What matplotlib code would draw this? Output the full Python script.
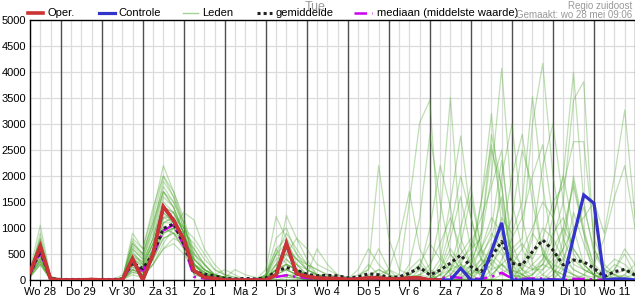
import matplotlib
matplotlib.use("Agg")
import matplotlib.pyplot as plt
from matplotlib.lines import Line2D

plt.rcParams['font.family'] = ['Liberation Sans', 'DejaVu Sans']

# ---------------- data (6-hourly steps from Wo 28 06:00 to Do 12 00:00) ----------------
day_labels = ["Wo 28", "Do 29", "Vr 30", "Za 31", "Zo 1", "Ma 2", "Di 3", "Wo 4",
              "Do 5", "Vr 6", "Za 7", "Zo 8", "Ma 9", "Di 10", "Wo 11"]
y_ticks = [0, 500, 1000, 1500, 2000, 2500, 3000, 3500, 4000, 4500, 5000]

oper = [150, 650, 20, 0, 0, 0, 10, 0, 0, 0, 410, 0, 500, 1410, 1150, 780, 180, 50, 30, 0,
        0, 0, 0, 0, 100, 705, 120, 70, 40, 30, 30, 10, 20, 40, 40, 20, 20, 40, 40, 0, 0]

controle = [150, 650, 20, 0, 0, 0, 10, 0, 0, 0, 410, 0, 500, 1410, 1150, 780, 180, 50, 30, 0,
            0, 0, 0, 0, 100, 705, 120, 70, 40, 30, 30, 10, 20, 40, 40, 20, 20, 40, 40, 0,
            0, 0, 225, 0, 0, 550, 1100, 0, 0, 0, 0, 0, 0, 820, 1635, 1475, 0, 20, 20, 0]

gemiddelde = [130, 550, 30, 10, 10, 10, 10, 10, 10, 20, 330, 220, 500, 990, 1080, 700, 160, 110, 80, 30,
              20, 30, 20, 40, 160, 240, 190, 110, 80, 90, 80, 40, 60, 120, 100, 50, 60, 130, 245, 95,
              190, 325, 480, 255, 160, 450, 740, 320, 290, 545, 770, 575, 290, 385, 350, 225, 65, 160, 205, 95]

mediaan = [120, 530, 20, 5, 5, 5, 5, 5, 5, 5, 310, 180, 470, 950, 1060, 660, 60, 30, 20, 10,
           10, 10, 10, 20, 60, 90, 60, 40, 20, 30, 30, 20, 20, 30, 20, 10, 10, 10, 20, 0,
           30, 60, 40, 30, 20, 60, 140, 30, 20, 30, 30, 10, 0, 20, 20, 10, 0, 0, 10, 0]

leden = [
    [130, 650, 30, 0, 0, 0, 0, 0, 0, 0, 500, 300, 800, 1600, 1400, 900, 200, 100, 50, 20, 0, 0, 0, 100, 500, 400, 200, 100, 50, 30, 20,
     0, 20, 80, 50, 20, 100, 1500, 3025, 3460, 500, 100, 50, 200, 400, 300, 100, 50, 100, 200, 300, 200, 100, 50, 0, 0, 0, 50, 100, 0],
    [100, 900, 60, 10, 0, 0, 0, 0, 0, 0, 900, 600, 1400, 2000, 1600, 1100, 400, 200, 80, 50, 0, 0, 0, 200, 1220, 800, 300, 100, 50, 20, 0,
     0, 0, 50, 200, 100, 50, 50, 100, 200, 1200, 3510, 800, 300, 600, 1200, 900, 400, 200, 100, 300, 800, 400, 200, 100, 50, 100, 300, 200, 100],
    [80, 400, 20, 0, 0, 0, 0, 0, 0, 0, 200, 100, 300, 700, 1000, 1300, 1150, 600, 300, 100, 50, 0, 0, 0, 50, 100, 50, 0, 0, 0, 0,
     0, 0, 0, 0, 0, 50, 100, 200, 100, 400, 1500, 2770, 1200, 400, 200, 300, 100, 50, 0, 100, 300, 200, 100, 0, 0, 0, 0, 50, 100],
    [200, 500, 20, 0, 0, 0, 0, 0, 0, 100, 300, 200, 600, 1100, 1200, 800, 100, 50, 20, 0, 0, 0, 0, 50, 200, 1240, 800, 400, 100, 0, 0,
     0, 0, 0, 100, 200, 100, 0, 0, 0, 0, 100, 400, 600, 800, 2000, 4070, 1500, 600, 200, 400, 900, 1200, 600, 300, 100, 50, 0, 0, 0],
    [150, 600, 40, 10, 0, 0, 0, 0, 0, 0, 400, 250, 700, 1300, 1100, 700, 150, 80, 30, 20, 0, 0, 0, 80, 300, 200, 100, 50, 20, 20, 0,
     0, 0, 0, 0, 0, 0, 0, 0, 0, 200, 600, 300, 100, 200, 500, 900, 600, 800, 3000, 4165, 2000, 800, 300, 200, 100, 200, 400, 300, 100],
    [120, 450, 20, 0, 0, 0, 0, 0, 0, 0, 150, 100, 400, 900, 1000, 700, 300, 100, 30, 20, 0, 0, 0, 0, 150, 600, 400, 300, 200, 100, 50,
     20, 100, 200, 2200, 800, 200, 100, 50, 0, 100, 300, 200, 100, 300, 600, 1200, 900, 1500, 3525, 1800, 600, 200, 100, 50, 0, 0, 100, 200, 50],
    [90, 350, 10, 0, 0, 0, 0, 0, 0, 0, 250, 150, 500, 1000, 900, 600, 100, 50, 20, 0, 0, 0, 0, 30, 100, 50, 30, 20, 0, 0, 0,
     0, 0, 0, 0, 0, 0, 50, 100, 50, 0, 0, 200, 400, 100, 0, 100, 300, 600, 1000, 1500, 1200, 2000, 3990, 1500, 500, 200, 100, 50, 0],
    [180, 800, 50, 20, 10, 0, 0, 0, 0, 50, 700, 500, 1100, 1800, 1500, 1000, 500, 300, 100, 50, 20, 0, 0, 100, 600, 300, 200, 100, 50, 30, 20,
     10, 0, 50, 100, 50, 0, 0, 0, 0, 100, 200, 300, 700, 1200, 1800, 2500, 400, 200, 500, 1000, 800, 1500, 3460, 3815, 600, 200, 100, 0, 0],
    [60, 300, 10, 0, 0, 0, 0, 0, 0, 0, 300, 200, 500, 900, 1000, 900, 700, 400, 200, 100, 50, 20, 0, 0, 50, 100, 100, 50, 20, 0, 0,
     0, 0, 0, 0, 0, 0, 0, 0, 0, 0, 100, 300, 200, 100, 300, 600, 200, 100, 300, 500, 300, 600, 1000, 1200, 1500, 900, 2000, 3270, 1200],
    [140, 550, 30, 0, 0, 0, 0, 0, 0, 0, 450, 350, 800, 1400, 1300, 900, 250, 150, 60, 30, 0, 0, 0, 60, 400, 500, 300, 100, 50, 20, 0,
     0, 0, 0, 0, 0, 0, 200, 400, 100, 0, 200, 500, 800, 400, 100, 300, 500, 700, 400, 800, 1500, 1800, 2660, 2660, 800, 300, 100, 0, 0],
    [110, 700, 30, 0, 0, 0, 0, 0, 0, 0, 550, 300, 700, 1200, 1200, 800, 200, 100, 40, 20, 0, 0, 0, 100, 800, 1000, 500, 200, 100, 50, 30,
     20, 200, 600, 300, 100, 0, 0, 0, 0, 0, 0, 100, 300, 900, 2500, 1800, 200, 0, 0, 200, 500, 300, 100, 0, 0, 0, 200, 600, 300],
    [70, 400, 20, 0, 0, 0, 0, 0, 0, 0, 200, 100, 400, 800, 900, 700, 400, 200, 100, 50, 200, 100, 50, 0, 0, 0, 0, 0, 0, 0, 0,
     0, 0, 0, 0, 0, 0, 0, 0, 0, 0, 0, 0, 50, 200, 400, 200, 100, 50, 100, 300, 600, 1000, 600, 300, 100, 0, 0, 0, 0],
    [160, 750, 40, 10, 0, 0, 0, 0, 0, 0, 800, 600, 1300, 2200, 1700, 1100, 300, 150, 50, 20, 0, 0, 0, 0, 200, 400, 200, 100, 100, 100, 50,
     0, 0, 0, 0, 200, 800, 1700, 600, 200, 100, 0, 0, 100, 300, 500, 300, 100, 200, 800, 2200, 3000, 1500, 500, 200, 100, 0, 0, 0, 0],
    [130, 500, 30, 0, 0, 0, 0, 0, 0, 0, 350, 200, 600, 1200, 1300, 1000, 600, 300, 100, 50, 20, 0, 0, 0, 100, 300, 200, 100, 50, 0, 0,
     0, 0, 100, 200, 100, 0, 0, 100, 300, 700, 1200, 600, 300, 900, 2800, 1800, 400, 100, 0, 0, 100, 400, 900, 1400, 600, 200, 0, 0, 0],
    [100, 600, 20, 0, 0, 0, 0, 0, 0, 0, 450, 250, 700, 1300, 1100, 800, 200, 100, 50, 20, 0, 0, 0, 50, 200, 300, 200, 100, 600, 300, 100,
     50, 0, 0, 0, 0, 0, 0, 0, 0, 0, 0, 0, 0, 0, 100, 300, 200, 100, 0, 0, 0, 200, 400, 200, 100, 0, 0, 0, 0],
    [200, 1050, 70, 20, 10, 0, 0, 0, 0, 0, 600, 400, 900, 1700, 1500, 1100, 400, 200, 80, 40, 0, 0, 0, 50, 500, 700, 400, 200, 100, 50, 20,
     0, 0, 0, 0, 0, 0, 300, 1200, 2800, 1500, 500, 200, 100, 0, 0, 0, 0, 0, 100, 400, 1200, 2000, 1000, 300, 100, 0, 0, 0, 0],
    [90, 350, 20, 0, 0, 0, 0, 0, 0, 0, 200, 150, 500, 1100, 1200, 1000, 800, 500, 200, 100, 0, 0, 0, 0, 100, 200, 100, 50, 0, 0, 0,
     0, 0, 0, 0, 0, 0, 0, 0, 0, 0, 200, 700, 1600, 600, 300, 2000, 3000, 1200, 300, 100, 0, 0, 0, 100, 300, 800, 1600, 2200, 1000],
    [150, 650, 40, 0, 0, 0, 0, 0, 0, 50, 650, 450, 1000, 1700, 1400, 900, 300, 150, 50, 30, 0, 0, 0, 0, 300, 600, 400, 200, 100, 50, 0,
     0, 50, 300, 100, 0, 0, 0, 0, 0, 0, 0, 0, 0, 0, 0, 0, 0, 0, 0, 0, 0, 0, 0, 0, 0, 0, 0, 0, 0],
    [50, 300, 10, 0, 0, 0, 0, 0, 0, 0, 100, 50, 300, 600, 700, 500, 200, 100, 50, 20, 0, 0, 0, 0, 0, 0, 0, 0, 0, 0, 0,
     0, 0, 0, 0, 0, 0, 0, 0, 0, 0, 200, 1000, 1800, 600, 0, 0, 0, 0, 0, 0, 200, 600, 2000, 1000, 200, 0, 0, 0, 0],
    [170, 800, 40, 10, 0, 0, 0, 0, 0, 0, 750, 500, 1200, 2000, 1700, 1200, 500, 200, 80, 40, 0, 0, 0, 60, 500, 900, 600, 300, 100, 50, 20,
     0, 0, 0, 50, 0, 0, 0, 0, 0, 300, 1000, 2000, 1200, 500, 800, 1600, 300, 0, 0, 0, 0, 300, 1300, 700, 200, 0, 0, 0, 0],
    [110, 550, 30, 0, 0, 0, 0, 0, 0, 0, 300, 200, 600, 1200, 1100, 800, 300, 100, 40, 20, 0, 0, 0, 0, 100, 200, 100, 50, 0, 0, 0,
     0, 0, 0, 0, 0, 0, 0, 200, 1000, 2200, 1400, 300, 0, 0, 0, 400, 800, 1200, 2000, 2600, 1200, 500, 200, 100, 0, 0, 0, 0, 0],
    [140, 600, 30, 0, 0, 0, 0, 0, 0, 0, 400, 300, 700, 1400, 1300, 900, 300, 200, 100, 200, 100, 0, 0, 50, 200, 300, 200, 100, 50, 50, 50,
     20, 0, 0, 0, 0, 0, 100, 300, 100, 0, 0, 0, 200, 600, 1000, 2300, 700, 200, 0, 0, 0, 0, 0, 0, 0, 0, 0, 0, 0],
    [90, 450, 20, 0, 0, 0, 0, 0, 0, 0, 250, 150, 500, 900, 1000, 800, 400, 200, 100, 50, 0, 0, 0, 0, 50, 100, 50, 0, 0, 0, 0,
     0, 0, 0, 0, 0, 0, 0, 0, 0, 100, 500, 200, 100, 400, 900, 600, 1200, 2500, 1800, 500, 200, 100, 0, 0, 0, 0, 0, 100, 300],
    [120, 500, 30, 0, 0, 0, 0, 0, 0, 0, 300, 200, 600, 1100, 1100, 700, 200, 100, 50, 20, 0, 0, 0, 0, 200, 500, 800, 600, 300, 200, 100,
     50, 0, 0, 0, 0, 0, 0, 0, 0, 200, 800, 1600, 600, 0, 0, 0, 0, 300, 900, 600, 200, 0, 0, 0, 0, 0, 0, 0, 0],
    [160, 700, 40, 10, 0, 0, 0, 0, 0, 0, 500, 350, 800, 1500, 1300, 900, 300, 100, 40, 0, 0, 0, 0, 100, 600, 800, 500, 300, 200, 100, 50,
     0, 0, 0, 0, 0, 0, 0, 0, 0, 0, 0, 0, 300, 1500, 3200, 1000, 300, 100, 0, 0, 0, 800, 1900, 900, 300, 100, 0, 0, 0],
    [80, 400, 20, 0, 0, 0, 0, 0, 0, 0, 200, 100, 400, 800, 900, 800, 600, 300, 100, 50, 0, 0, 0, 0, 0, 50, 50, 0, 0, 0, 0,
     0, 0, 0, 0, 0, 0, 0, 0, 0, 0, 0, 0, 0, 200, 700, 500, 100, 0, 0, 0, 0, 0, 0, 0, 0, 0, 0, 0, 0],
    [130, 650, 30, 0, 0, 0, 0, 0, 0, 0, 600, 400, 1000, 1900, 1600, 1000, 300, 100, 40, 20, 0, 0, 0, 0, 300, 500, 300, 200, 100, 50, 0,
     0, 0, 0, 0, 0, 0, 100, 300, 700, 400, 200, 100, 500, 1500, 2600, 1400, 500, 300, 200, 200, 400, 1000, 1800, 900, 0, 0, 0, 0, 0],
    [100, 350, 20, 0, 0, 0, 0, 0, 0, 0, 300, 200, 500, 1000, 900, 600, 200, 100, 50, 20, 0, 0, 0, 0, 100, 200, 100, 50, 0, 0, 0,
     0, 0, 0, 0, 0, 0, 0, 0, 0, 0, 0, 0, 0, 0, 0, 0, 0, 0, 0, 0, 0, 0, 0, 0, 0, 0, 0, 0, 0],
    [150, 750, 40, 0, 0, 0, 0, 0, 0, 0, 700, 500, 1100, 1700, 1400, 900, 300, 150, 50, 20, 0, 0, 0, 30, 200, 300, 200, 100, 50, 20, 0,
     0, 50, 200, 600, 200, 0, 0, 0, 0, 0, 0, 0, 0, 0, 200, 800, 2000, 2800, 1500, 500, 200, 0, 0, 0, 0, 0, 0, 0, 0],
    [60, 300, 10, 0, 0, 0, 0, 0, 0, 0, 150, 100, 300, 600, 800, 700, 500, 300, 100, 50, 20, 0, 0, 0, 50, 100, 50, 20, 0, 0, 0,
     0, 0, 0, 0, 0, 0, 0, 0, 0, 0, 0, 0, 0, 0, 0, 0, 0, 0, 0, 0, 0, 0, 0, 0, 0, 0, 200, 500, 100],
]

# ---------------- figure ----------------
W, H = 635, 300
fig = plt.figure(figsize=(W / 100, H / 100), dpi=100)
ax = fig.add_axes([30 / W, 20 / H, 605 / W, 260 / H])

n = len(gemiddelde)
x = list(range(n))

# grid
for v in y_ticks[1:-1]:
    ax.axhline(v, color='#dcdcdc', lw=0.9, zorder=0)
for i in range(n):
    if (i - 3) % 4 == 0:
        ax.axvline(i, color='#505050', lw=1.0, zorder=0.5)
    else:
        ax.axvline(i, color='#dcdcdc', lw=0.9, zorder=0)

green = '#4aa528'
for m in leden:
    ax.plot(x, m, color=green, lw=0.9, alpha=0.35, zorder=1)

ax.plot(x, mediaan, color='#cc00ee', lw=1.8, linestyle=(0, (5, 2, 1, 2)), zorder=2)
ax.plot(x, gemiddelde, color='#222222', lw=2.2, linestyle=(0, (1, 1)), zorder=3)
ax.plot(x, controle, color='#3333cc', lw=2.3, zorder=4, solid_joinstyle='miter')
ax.plot(range(len(oper)), oper, color='#cc3333', lw=2.6, zorder=5, solid_joinstyle='miter')

ax.set_xlim(0, n - 1)
ax.set_ylim(0, 5000)
ax.set_yticks(y_ticks)
ax.set_yticklabels([str(v) for v in y_ticks], fontsize=8)
ax.tick_params(axis='y', length=0, pad=3)

ax.set_xticks([1 + 4 * k for k in range(len(day_labels))])
ax.set_xticklabels(day_labels, fontsize=8)
ax.set_xticks(range(n), minor=True)
ax.tick_params(axis='x', which='both', length=4, width=0.8, color='black', pad=1)

for s in ['left', 'bottom', 'top']:
    ax.spines[s].set_color('black')
    ax.spines[s].set_linewidth(1.0)
ax.spines['right'].set_visible(False)

# legend (manual)
def fy(py):
    return 1 - py / H

def fx(px):
    return px / W

ly = fy(13.3)
items = [
    (28, 43, dict(color='#cc3333', lw=2.6), 47.5, "Oper."),
    (99, 115, dict(color='#3333cc', lw=2.3), 118, "Controle"),
    (183, 198, dict(color=green, lw=1.0, alpha=0.5), 202, "Leden"),
    (257, 272, dict(color='#222222', lw=2.2, linestyle=(0, (1, 1))), 276, "gemiddelde"),
    (354, 372, dict(color='#cc00ee', lw=1.8, linestyle=(0, (5, 2, 1, 2))), 377, "mediaan (middelste waarde)"),
]
for x0, x1, kw, tx, label in items:
    fig.add_artist(Line2D([fx(x0), fx(x1)], [ly, ly], transform=fig.transFigure, **kw))
    fig.text(fx(tx), ly, label, fontsize=8, va='center', ha='left', color='black')

fig.text(fx(305), fy(7), "Tue", fontsize=9, color='#999999', va='center', ha='left')
fig.text(fx(632), fy(6), "Regio zuidoost", fontsize=7, color='#999999', va='center', ha='right')
fig.text(fx(632), fy(15), "Gemaakt: wo 28 mei 09:06", fontsize=7, color='#999999', va='center', ha='right')

fig.savefig('out.png', dpi=100)
